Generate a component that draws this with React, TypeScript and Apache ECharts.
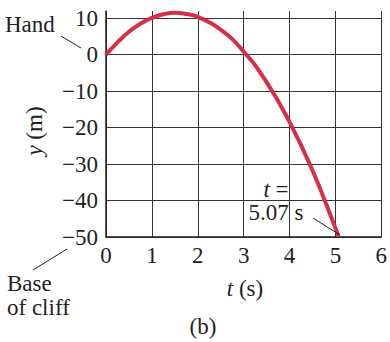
import React, { useEffect, useRef } from "react";
import * as echarts from "echarts";

// Height of a ball thrown from a cliff edge, sampled along its path
const times = [0, 0.25, 0.5, 0.75, 1, 1.25, 1.5, 1.75, 2, 2.5, 3, 3.5, 4, 4.5, 5, 5.07];
const heights = [0, 3.4, 6.3, 8.5, 10.1, 11.1, 11.5, 11.2, 10.4, 6.9, 0.9, -7.5, -18.4, -31.7, -47.5, -49.9];

const xTicks = [0, 1, 2, 3, 4, 5, 6];
const yTicks = [-50, -40, -30, -20, -10, 0, 10];

const serif = "'Liberation Serif', 'DejaVu Serif', serif";
const ink = "#231f20";
const curveRed = "#d62f48";
const fs = 23;

export default function App() {
  const ref = useRef<HTMLDivElement>(null);

  useEffect(() => {
    if (!ref.current) return;
    const chart = echarts.init(ref.current, null, { renderer: "svg" });
    const points = times.map((t, i) => [t, heights[i]]);
    const italic = { i: { fontStyle: "italic", fontFamily: serif, fontSize: fs } };

    chart.setOption({
      animation: false,
      backgroundColor: "#ffffff",
      grid: { left: 106, right: 6, top: 11, bottom: 105 },
      xAxis: {
        type: "value",
        min: xTicks[0],
        max: xTicks[xTicks.length - 1],
        interval: 1,
        axisLine: { show: true, onZero: false, lineStyle: { color: ink, width: 1.5 } },
        axisTick: { show: false },
        axisLabel: { color: ink, fontFamily: serif, fontSize: fs, margin: 7 },
        splitLine: { show: true, lineStyle: { color: "#333333", width: 1 } },
      },
      yAxis: {
        type: "value",
        min: yTicks[0],
        max: 12,
        interval: 10,
        axisLine: { show: true, onZero: false, lineStyle: { color: ink, width: 1.5 } },
        axisTick: { show: false },
        axisLabel: {
          color: ink,
          fontFamily: serif,
          fontSize: fs,
          margin: 8,
          showMaxLabel: false,
          formatter: (v: number) =>
            yTicks.includes(v) ? (v < 0 ? "\u2212" + Math.abs(v) : String(v)) : "",
        },
        splitLine: {
          show: true,
          showMaxLine: false,
          lineStyle: { color: "#333333", width: 1 },
        },
      },
      series: [
        {
          type: "line",
          data: points,
          smooth: true,
          showSymbol: false,
          lineStyle: { color: curveRed, width: 4 },
          z: 5,
        },
      ],
      graphic: [
        {
          type: "text",
          x: 5,
          y: 13,
          style: { text: "Hand", font: `${fs}px ${serif}`, fill: ink },
        },
        {
          type: "line",
          shape: { x1: 61, y1: 36, x2: 81, y2: 48 },
          style: { stroke: ink, lineWidth: 1 },
        },
        {
          type: "text",
          x: 7,
          y: 271,
          style: { text: "Base\nof cliff", font: `${fs}px ${serif}`, fill: ink, lineHeight: 24 },
        },
        {
          type: "line",
          shape: { x1: 33, y1: 270, x2: 67, y2: 249 },
          style: { stroke: ink, lineWidth: 1 },
        },
        {
          type: "text",
          x: 276,
          y: 189,
          style: {
            text: "{i|t} =",
            font: `${fs}px ${serif}`,
            fill: ink,
            align: "center",
            verticalAlign: "middle",
            rich: italic,
          },
          z: 10,
        },
        {
          type: "text",
          x: 276,
          y: 212,
          style: {
            text: "5.07 s",
            font: `${fs}px ${serif}`,
            fill: ink,
            align: "center",
            verticalAlign: "middle",
          },
          z: 10,
        },
        {
          type: "line",
          shape: { x1: 313, y1: 218, x2: 340, y2: 235 },
          style: { stroke: ink, lineWidth: 1 },
          z: 10,
        },
        {
          type: "text",
          x: 245,
          y: 288,
          style: {
            text: "{i|t} (s)",
            font: `${fs}px ${serif}`,
            fill: ink,
            align: "center",
            verticalAlign: "middle",
            rich: italic,
          },
        },
        {
          type: "text",
          x: 34,
          y: 131,
          rotation: Math.PI / 2,
          style: {
            text: "{i|y} (m)",
            font: `${fs}px ${serif}`,
            fill: ink,
            align: "center",
            verticalAlign: "middle",
            rich: italic,
          },
        },
        {
          type: "text",
          x: 203,
          y: 326,
          style: {
            text: "(b)",
            font: `${fs}px ${serif}`,
            fill: ink,
            align: "center",
            verticalAlign: "middle",
          },
        },
      ],
    });

    return () => chart.dispose();
  }, []);

  return (
    <div
      ref={ref}
      style={{ position: "fixed", left: 0, top: 0, width: 390, height: 342 }}
    />
  );
}
